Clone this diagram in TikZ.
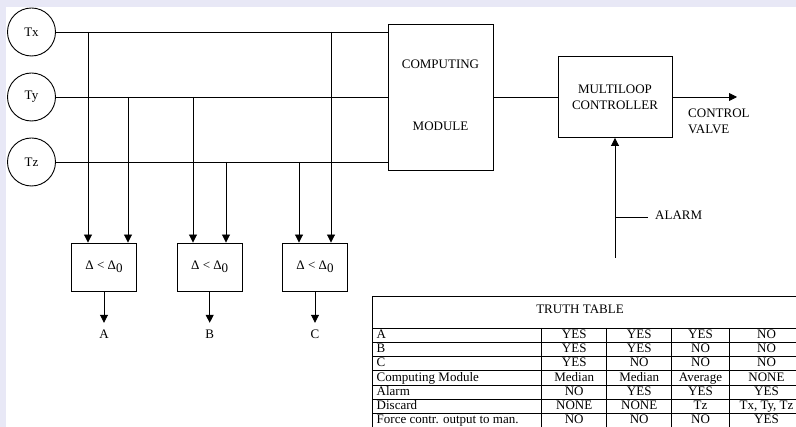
\documentclass[tikz,border=0pt]{standalone}
\usepackage{fontspec}
\setmainfont{Liberation Serif}
\usetikzlibrary{arrows.meta}
\definecolor{lav}{RGB}{232,232,246}
\newcommand{\mytxyz}{Tx, Ty, Tz}
\newcommand{\mydelta}{Δ < Δ\raisebox{-0.45ex}{0}}
\begin{document}
\begin{tikzpicture}[x=1pt,y=-1pt,
  ln/.style={line width=0.9pt, draw=black},
  arr/.style={ln,-{Triangle[length=8pt,width=8pt]}},
  fnt/.style={font=\fontsize{13}{16}\selectfont},
  sensor/.style={circle,draw,line width=0.9pt,minimum size=48pt,inner sep=0pt,fnt},
  blk/.style={draw,line width=0.9pt,inner sep=0pt,fnt,align=center},
  lbl/.style={fnt,inner sep=0pt,text height=9pt,text depth=3pt},
  tbl/.style={fnt,inner sep=0pt,text height=9pt,text depth=3pt}
]
\useasboundingbox (0,0) rectangle (796,427);
\fill[lav] (0,0) rectangle (796,427);
\fill[white] (6,7) rectangle (796,427);
\clip (0,0) rectangle (796,427);

% sensors
\node[sensor] (tx) at (31.5,32) {Tx};
\node[sensor] (ty) at (31.5,97) {Ty};
\node[sensor] (tz) at (31.5,162) {Tz};

% computing module
\node[blk, minimum width=105pt, minimum height=146pt] (cm) at (440.5,97) {};
\node[lbl] (cm1) at (440.5,66) {COMPUTING};
\node[lbl] (cm2) at (440.5,128) {MODULE};

% multiloop controller
\node[blk, minimum width=114pt, minimum height=81pt] (ml) at (615,97) {MULTILOOP\\CONTROLLER};

% bus lines
\draw[ln] (tx.east) -- (tx.east -| cm.west);
\draw[ln] (ty.east) -- (ty.east -| cm.west);
\draw[ln] (tz.east) -- (tz.east -| cm.west);
\draw[ln] (cm.east) -- (ml.west);

% comparators
\node[blk, minimum width=65pt, minimum height=48pt] (da) at (104,267) {\mydelta};
\node[blk, minimum width=65pt, minimum height=48pt] (db) at (209.7,267) {\mydelta};
\node[blk, minimum width=65pt, minimum height=48pt] (dc) at (315,267) {\mydelta};

% drops
\coordinate (a1) at (88,32);
\coordinate (a2) at (128,97);
\coordinate (b1) at (193,97);
\coordinate (b2) at (226,162);
\coordinate (c1) at (299,162);
\coordinate (c2) at (331,32);
\draw[arr] (a1) -- (a1 |- da.north);
\draw[arr] (a2) -- (a2 |- da.north);
\draw[arr] (b1) -- (b1 |- db.north);
\draw[arr] (b2) -- (b2 |- db.north);
\draw[arr] (c1) -- (c1 |- dc.north);
\draw[arr] (c2) -- (c2 |- dc.north);

% outputs A B C
\node[lbl] (la) at (104,336) {A};
\node[lbl] (lb) at (209.7,336) {B};
\node[lbl] (lc) at (315,336) {C};
\draw[arr] (da.south) -- ([yshift=7pt]la.north);
\draw[arr] (db.south) -- ([yshift=7pt]lb.north);
\draw[arr] (dc.south) -- ([yshift=7pt]lc.north);

% control valve
\coordinate (cv) at (737,97);
\draw[arr] (ml.east) -- (cv);
\node[fnt, inner sep=0pt, anchor=north west, align=left] (cvl) at (688,109) {CONTROL\\VALVE};

% alarm
\coordinate (al) at (615,258);
\draw[arr] (al) -- (al |- ml.south);
\coordinate (at) at (615,217);
\coordinate (ae) at (648,217);
\draw[ln] (at) -- (ae);
\node[lbl, anchor=west] (alarm) at (655,217) {ALARM};

% truth table
\draw[ln] (372.3,432) -- (372.3,296) -- (830,296);
\node[tbl] (tt) at (580,311) {TRUTH TABLE};
\foreach \yy in {328,342.3,356.6,370.9,385.2,399.5,413.8} {
  \draw[ln] (372.3,\yy) -- (830,\yy);
}
\foreach \xx in {541.7,606.7,671.7,729.3} {
  \draw[ln] (\xx,328) -- (\xx,432);
}
\foreach \lab/\a/\b/\c/\d [count=\i] in {
  A/YES/YES/YES/NO,
  B/YES/YES/NO/NO,
  C/YES/NO/NO/NO,
  Computing Module/Median/Median/Average/NONE,
  Alarm/NO/YES/YES/YES,
  Discard/NONE/NONE/Tz/\mytxyz,
  Force contr. output to man./NO/NO/NO/YES} {
  \pgfmathsetmacro{\ry}{328+14.3*(\i-0.5)}
  \node[tbl, anchor=west] (r\i c0) at (376.5,\ry) {\lab};
  \node[tbl] (r\i c1) at (574.2,\ry) {\a};
  \node[tbl] (r\i c2) at (639.2,\ry) {\b};
  \node[tbl] (r\i c3) at (700.5,\ry) {\c};
  \node[tbl] (r\i c4) at (766.5,\ry) {\d};
}
\end{tikzpicture}
\end{document}
